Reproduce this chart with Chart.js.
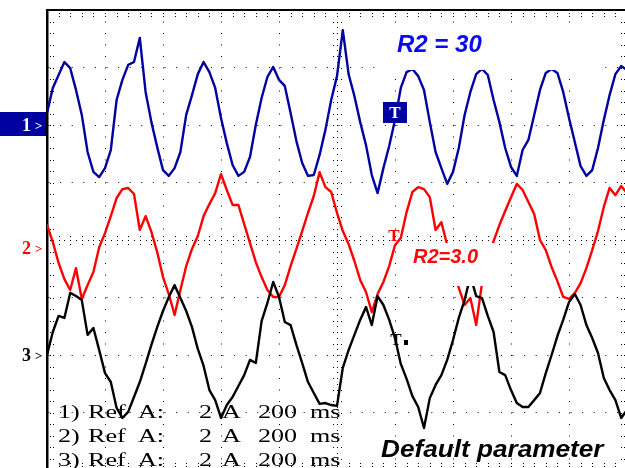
<!DOCTYPE html>
<html>
<head>
<meta charset="utf-8">
<script src="https://cdn.jsdelivr.net/npm/chart.js@4/dist/chart.umd.min.js"></script>
<style>
  html, body { margin: 0; padding: 0; background: #fff; overflow: hidden; width: 625px; height: 468px; }
  #wrap { position: absolute; left: 0; top: 0; width: 632px; height: 476px; }
  canvas { display: block; }
</style>
</head>
<body>
<div id="wrap"><canvas id="scope" width="632" height="476"></canvas></div>
<script>
// Horizontal: 200 ms per division, 10 divisions, one sample every 20 ms
const msPerDiv = 200;
const divisionsX = 10;
const sampleMs = 20;

// Vertical: 2 A per division, 8 divisions; reference level of each channel (div from centre)
const ampsPerDiv = 2;
const channelLevels = [2.0, -0.14, -2.0];
const channelLabels = ['1', '2', '3'];

// Channel 1 (R2 = 30), amps relative to its reference level
const ch1Amps = [
  0.42, 1.29, 1.74, 2.19, 1.98, 1.22, 0.35, -0.94, -1.63, -1.81,
  -1.50, -0.87, 0.87, 1.57, 2.09, 2.19, 3.03, 1.15, 0.10, -0.77,
  -1.57, -1.77, -1.50, -0.94, 0.35, 1.04, 1.77, 2.19, 1.84, 1.29,
  0.24, -0.63, -1.39, -1.77, -1.63, -1.11, 0.00, 0.94, 1.67, 2.02,
  1.57, 1.36, 0.42, -0.56, -1.32, -1.77, -1.74, -1.04, -0.17, 0.87,
  1.70, 3.30, 1.77, 1.01, 0.10, -0.70, -1.74, -2.37, -1.50, -0.73,
  0.17, 1.29, 1.84, 1.95, 1.70, 1.22, 0.10, -0.94, -1.50, -2.05,
  -1.63, -0.80, 0.35, 1.15, 1.77, 1.95, 1.74, 0.87, 0.10, -0.80,
  -1.46, -1.77, -0.87, -0.52, 0.35, 1.22, 1.81, 1.95, 1.81, 1.15,
  0.24, -0.59, -1.43, -1.77, -1.57, -0.80, 0.17, 1.04, 1.77, 2.05,
  1.91
];

// Channel 2 (R2 = 3.0)
const ch2Amps = [
  0.80, 0.21, -0.52, -1.08, -1.46, -0.70, -1.77, -1.29, -0.83, 0.03,
  0.52, 1.11, 1.74, 2.05, 2.09, 1.88, 0.63, 1.11, 0.56, -0.14,
  -1.01, -1.60, -2.33, -1.46, -0.63, -0.03, 0.42, 1.11, 1.53, 1.91,
  2.57, 2.02, 1.50, 1.50, 0.83, 0.17, -0.49, -1.01, -1.46, -1.70,
  -1.70, -1.29, -0.63, -0.03, 0.59, 1.22, 1.81, 2.64, 2.12, 1.95,
  1.22, 0.59, 0.14, -0.45, -1.11, -1.53, -2.23, -1.60, -1.18, -0.63,
  0.10, 0.35, 1.25, 1.95, 2.12, 2.05, 1.77, 0.63, 0.90, 0.10,
  -0.70, -1.39, -1.98, -1.74, -2.68, -1.22, -0.49, 0.24, 0.80, 1.29,
  1.77, 2.23, 2.02, 1.60, 1.18, 0.28, -0.07, -0.66, -1.15, -1.70,
  -1.77, -1.57, -1.22, -0.70, -0.07, 0.59, 1.43, 2.09, 1.84, 2.16,
  1.91
];

// Channel 3 (default parameter)
const ch3Amps = [
  0.00, 0.80, 1.36, 1.29, 2.16, 2.05, 1.91, 0.70, 0.94, 0.17,
  -0.63, -0.94, -1.84, -2.19, -1.98, -1.46, -0.94, -0.31, 0.35, 0.97,
  1.53, 2.02, 2.43, 1.98, 1.53, 0.97, 0.21, -0.38, -1.22, -1.57,
  -2.19, -1.74, -1.46, -1.08, -0.70, -0.17, -0.28, 1.18, 1.81, 2.54,
  2.02, 1.15, 1.04, 0.35, -0.28, -0.94, -1.32, -1.70, -1.67, -1.74,
  -1.77, -0.45, 0.17, 0.70, 1.22, 1.67, 1.04, 2.05, 1.74, 1.22,
  0.59, -0.31, -0.83, -1.43, -1.81, -2.54, -1.50, -1.04, -0.70, -0.17,
  0.52, 1.29, 1.91, 2.75, 2.05, 1.98, 1.36, 0.80, -0.59, -0.70,
  -1.22, -1.67, -1.81, -1.81, -1.57, -1.32, -0.63, 0.00, 0.66, 1.22,
  1.84, 2.12, 1.74, 1.04, 0.59, 0.07, -0.80, -1.22, -1.57, -2.19,
  -1.91
];

// Trigger time and the marker level on each trace (div)
const triggerMs = 1200;
const triggerLevels = [2.23, 0.08, -1.72];

// Settings readout, one row per channel
const readoutRows = [
  ['1)', 'Ref', 'A:', '2', 'A', '200', 'ms'],
  ['2)', 'Ref', 'A:', '2', 'A', '200', 'ms'],
  ['3)', 'Ref', 'A:', '2', 'A', '200', 'ms']
];

const traceColors = ['#0000a0', '#ff0000', '#000000'];

function toPoints(amps, level) {
  return amps.map((a, i) => ({ x: i * sampleMs, y: level + a / ampsPerDiv }));
}

function drawText(ctx, str, x, y, font, color, sx) {
  ctx.save();
  ctx.font = font;
  ctx.fillStyle = color;
  ctx.textBaseline = 'alphabetic';
  ctx.translate(x, y);
  ctx.scale(sx || 1, 1);
  ctx.fillText(str, 0, 0);
  ctx.restore();
}

// Border tick dots and the finely marked centre cross
const graticule = {
  id: 'graticule',
  beforeDatasetsDraw(chart) {
    const { ctx, chartArea: a, scales: { x, y } } = chart;
    const stepX = (x.getPixelForValue(msPerDiv) - x.getPixelForValue(0)) / 5;
    const stepY = (y.getPixelForValue(0) - y.getPixelForValue(1)) / 5;
    const dot = (px, py) => ctx.fillRect(Math.round(px), Math.round(py), 1, 1);
    ctx.save();
    ctx.fillStyle = '#000';
    for (let px = a.left; px <= a.right + 0.5; px += stepX) {
      dot(px, a.top + 3); dot(px, a.top + 6);
      dot(px, a.bottom - 4); dot(px, a.bottom - 7);
    }
    for (let py = a.top; py <= a.bottom + 0.5; py += stepY) {
      dot(a.left + 3, py); dot(a.left + 6, py);
      dot(a.right - 3, py); dot(a.right - 6, py);
    }
    const cx = x.getPixelForValue(divisionsX / 2 * msPerDiv);
    const cy = y.getPixelForValue(0);
    for (let py = a.top; py <= a.bottom + 0.5; py += stepY / 2) dot(cx, py);
    for (let py = a.top; py <= a.bottom + 0.5; py += stepY) { dot(cx - 4, py); dot(cx + 4, py); }
    for (let px = a.left; px <= a.right + 0.5; px += stepX / 2) dot(px, cy);
    for (let px = a.left; px <= a.right + 0.5; px += stepX) { dot(px, cy - 4); dot(px, cy + 4); }
    ctx.restore();
  },
  afterDatasetsDraw(chart) {
    const { ctx, scales: { x, y } } = chart;
    // caption panels
    ctx.save();
    ctx.fillStyle = '#fff';
    ctx.fillRect(384, 23, 216, 47);
    ctx.fillRect(405, 243, 92, 43);
    ctx.restore();
    drawText(ctx, 'R2 = 30', 397, 52, 'italic bold 24px "Liberation Sans", Arial, sans-serif', '#0a0af5');
    drawText(ctx, 'R2=3.0', 413, 263, 'italic bold 20px "Liberation Sans", Arial, sans-serif', '#ff0a0a');
    drawText(ctx, 'Default parameter', 381, 457, 'italic bold 24px "Liberation Sans", Arial, sans-serif', '#000', 1.09);

    // settings readout
    const cols = [58, 88, 138, 199, 222, 258, 310];
    readoutRows.forEach((row, r) => {
      row.forEach((tok, c) => {
        drawText(ctx, tok, cols[c], 418 + r * 24, '18px "Liberation Serif", "Times New Roman", serif', '#000', 1.45);
      });
    });

    // trigger markers
    const tx = x.getPixelForValue(triggerMs);
    const ty = triggerLevels.map(v => y.getPixelForValue(v));
    ctx.save();
    ctx.fillStyle = traceColors[0];
    ctx.fillRect(Math.round(tx - 12), Math.round(ty[0] - 10), 24, 21);
    ctx.restore();
    ctx.save();
    ctx.textAlign = 'center';
    ctx.font = 'bold 17px "Liberation Serif", serif';
    ctx.fillStyle = '#fff';
    ctx.fillText('T', tx, ty[0] + 6);
    ctx.fillStyle = traceColors[1];
    ctx.fillText('T', tx - 1, ty[1] + 6);
    ctx.fillStyle = traceColors[2];
    ctx.fillText('T', tx + 1, ty[2] + 6);
    ctx.fillRect(Math.round(tx + 9), Math.round(ty[2] + 1), 4, 5);
    ctx.restore();
  },
  afterDraw(chart) {
    const { ctx, scales: { y } } = chart;
    channelLevels.forEach((lvl, i) => {
      const py = y.getPixelForValue(lvl);
      let color = traceColors[i];
      if (i === 0) {
        ctx.save();
        ctx.fillStyle = traceColors[0];
        ctx.fillRect(0, Math.round(py - 13), 46, 24);
        ctx.restore();
        color = '#fff';
      }
      drawText(ctx, channelLabels[i], 22, py + 6, 'bold 18px "Liberation Serif", serif', color);
      drawText(ctx, '>', 35, py + 5, 'bold 13px "Liberation Serif", serif', color);
    });
  }
};

const isEdgeOrCentreX = v => v === 0 || v === divisionsX * msPerDiv || v === divisionsX / 2 * msPerDiv;
const isEdgeOrCentreY = v => v === 4 || v === -4 || v === 0;

new Chart(document.getElementById('scope'), {
  type: 'line',
  data: {
    datasets: [
      { label: 'R2 = 30', data: toPoints(ch1Amps, channelLevels[0]), borderColor: traceColors[0] },
      { label: 'Default parameter', data: toPoints(ch3Amps, channelLevels[2]), borderColor: traceColors[2] },
      { label: 'R2=3.0', data: toPoints(ch2Amps, channelLevels[1]), borderColor: traceColors[1] }
    ]
  },
  options: {
    responsive: false,
    animation: false,
    devicePixelRatio: 1,
    layout: { padding: { left: 47, top: 10, right: 5, bottom: 6 } },
    plugins: { legend: { display: false }, tooltip: { enabled: false } },
    elements: {
      line: { borderWidth: 2.4, tension: 0, borderJoinStyle: 'round', borderCapStyle: 'round' },
      point: { radius: 0, hoverRadius: 0 }
    },
    scales: {
      x: {
        type: 'linear', position: 'bottom', min: 0, max: divisionsX * msPerDiv,
        ticks: { display: false, stepSize: msPerDiv },
        grid: {
          drawTicks: false, lineWidth: 1,
          color: c => (c.tick && isEdgeOrCentreX(c.tick.value)) ? 'rgba(0,0,0,0)' : '#000'
        },
        border: { display: false, dash: [1, 10.5] }
      },
      xTop: {
        type: 'linear', position: 'top', min: 0, max: divisionsX * msPerDiv,
        ticks: { display: false },
        grid: { display: false, drawTicks: false },
        border: { display: true, color: '#000', width: 2 }
      },
      y: {
        type: 'linear', min: -4, max: 4,
        ticks: { display: false, stepSize: 1 },
        grid: {
          drawTicks: false, lineWidth: 1,
          color: c => (c.tick && isEdgeOrCentreY(c.tick.value)) ? 'rgba(0,0,0,0)' : '#000'
        },
        border: { display: true, color: '#000', width: 2.5, dash: [1, 10.6] }
      }
    }
  },
  plugins: [graticule]
});
</script>
</body>
</html>
